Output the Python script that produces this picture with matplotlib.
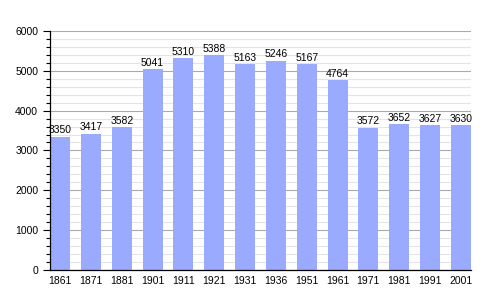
import matplotlib
matplotlib.use("Agg")
import matplotlib.pyplot as plt
from matplotlib.ticker import MultipleLocator

# population by census year
years = ["1861", "1871", "1881", "1901", "1911", "1921", "1931",
         "1936", "1951", "1961", "1971", "1981", "1991", "2001"]
population = [3350, 3417, 3582, 5041, 5310, 5388, 5163,
              5246, 5167, 4764, 3572, 3652, 3627, 3630]

plt.rcParams["font.family"] = ["Liberation Sans", "DejaVu Sans"]

fig = plt.figure(figsize=(5, 3), dpi=100)
ax = fig.add_axes([0.1, 0.1, 0.842, 0.797])

x = range(len(years))
bars = ax.bar(x, population, width=0.65, color="#99aaff", zorder=2)

for xi, v in zip(x, population):
    ax.text(xi, v + 40, str(v), ha="center", va="bottom", fontsize=7.5)

ax.set_xlim(-0.33, len(years) - 1 + 0.33)
ax.set_ylim(0, 6000)
ax.set_xticks(list(x))
ax.set_xticklabels(years, fontsize=7.5)
ax.yaxis.set_major_locator(MultipleLocator(1000))
ax.yaxis.set_minor_locator(MultipleLocator(200))
ax.tick_params(axis="y", labelsize=7.5, length=5, width=0.8)
ax.tick_params(axis="y", which="minor", length=3, width=0.8)
ax.tick_params(axis="x", length=0, pad=4)

ax.grid(axis="y", which="major", color="#aaaaaa", linewidth=0.8, zorder=0)
ax.grid(axis="y", which="minor", color="#e4e4e4", linewidth=0.8, zorder=0)
ax.set_axisbelow(True)

for side in ("top", "right"):
    ax.spines[side].set_visible(False)
ax.spines["left"].set_linewidth(0.9)
ax.spines["bottom"].set_linewidth(0.9)

fig.savefig("out.png", dpi=100)
